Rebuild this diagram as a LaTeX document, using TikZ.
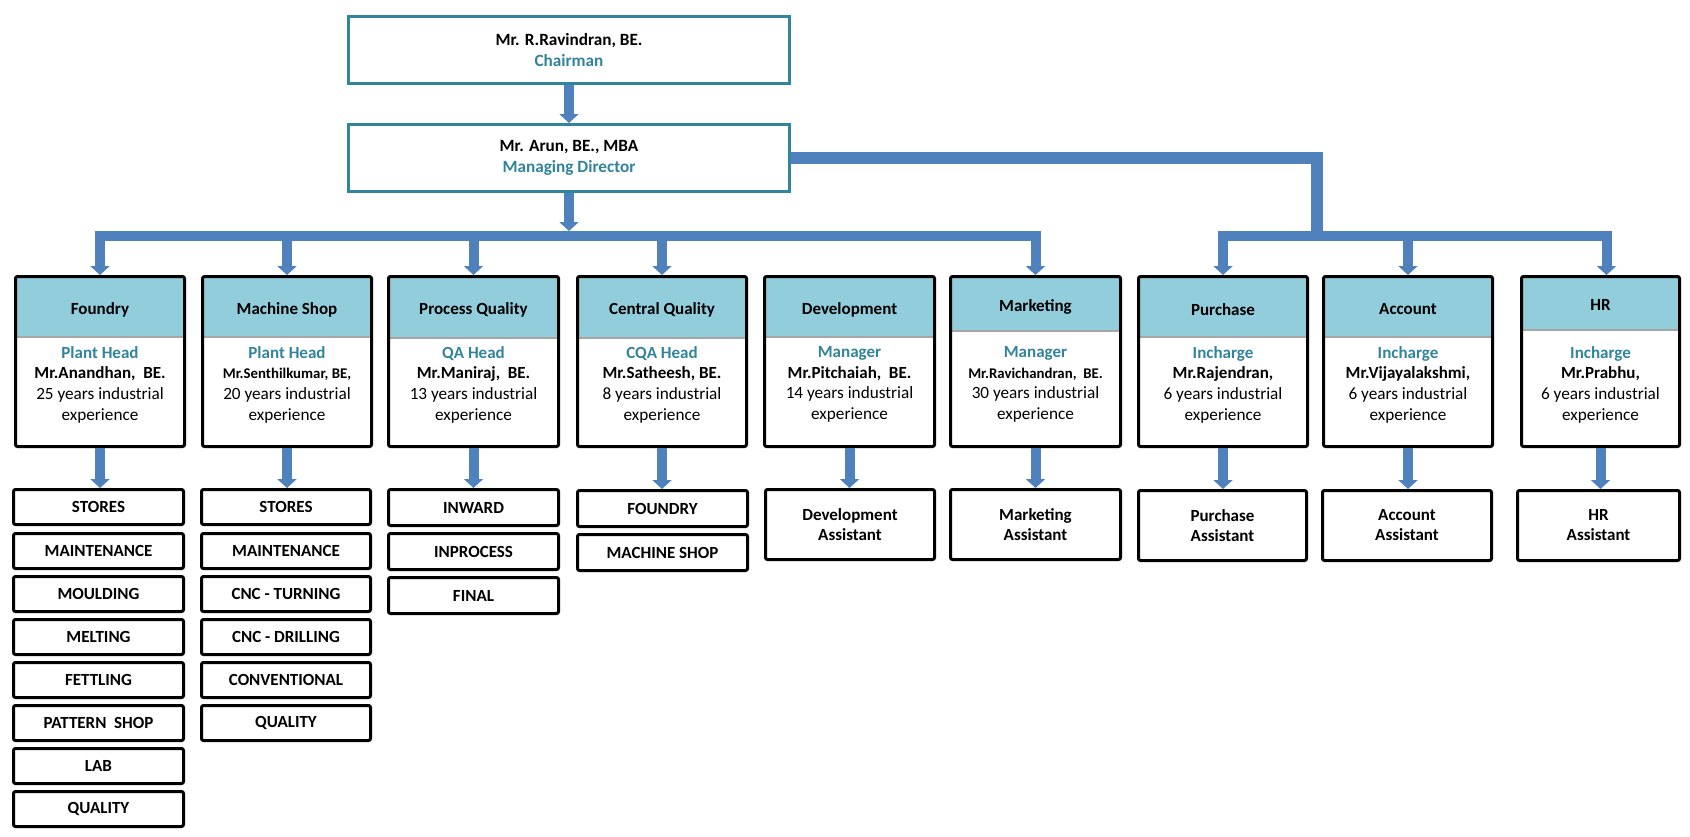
\documentclass[tikz,border=0pt]{standalone}
\usepackage{fontspec}
\setmainfont{Carlito}
\usetikzlibrary{arrows.meta}
\definecolor{tealtxt}{HTML}{31849B}
\definecolor{tealline}{HTML}{31859C}
\definecolor{hdrblue}{HTML}{92CDDC}
\definecolor{arrowblue}{HTML}{4F81BD}
\definecolor{hdrgrey}{HTML}{A6A6A6}
\tikzset{
  topbox/.style={draw=tealline, line width=3pt, fill=white, minimum width=441pt, minimum height=67pt, align=center, inner sep=0pt, font=\fontsize{17.2}{21.5}\selectfont\bfseries},
  deptframe/.style={draw=black, line width=3pt, rounded corners=2pt, minimum height=170pt, inner sep=0pt},
  hdrtext/.style={font=\fontsize{17}{20}\selectfont\bfseries, inner sep=0pt},
  bodytext/.style={align=center, font=\fontsize{17.2}{20.7}\selectfont, inner sep=0pt},
  subbox/.style={draw=black, line width=3pt, rounded corners=2pt, align=center, inner sep=0pt, font=\fontsize{17}{20}\selectfont\bfseries},
  arr/.style={draw=arrowblue, line width=10pt, line join=miter, -{Triangle[width=19pt,length=9pt]}},
  busline/.style={draw=arrowblue, line width=10pt, line join=miter},
  hdrfill/.style={fill=hdrblue},
  hdrline/.style={draw=hdrgrey, line width=1.5pt},
}
% #1 name, #2 left, #3 right, #4 header bottom, #5 header text y, #6 header, #7 role, #8 name line, #9 years
\newcommand\deptunit[9]{%
  \fill[hdrfill] (#2+1.5,276.5) rectangle (#3-1.5,#4);
  \draw[hdrline] (#2+1.5,#4) -- (#3-1.5,#4);
  \node[deptframe, minimum width=#3-#2-3] (#1) at ({(#2+#3)/2},361.5) {};
  \node[hdrtext] (#1h) at ({(#2+#3)/2},#5+1.5) {#6};
  \node[bodytext] (#1b) at ({(#2+#3)/2},384.5) {{\bfseries\fontsize{17}{20.7}\selectfont\color{tealtxt}#7}\\#8\\#9 years industrial\\experience};
}
% #1 name, #2 left, #3 right, #4 top, #5 bottom, #6 text
\newcommand\subunit[6]{%
  \node[subbox, minimum width=#3-#2-3, minimum height=#5-#4-3] (#1) at ({(#2+#3)/2},{(#4+#5)/2+1}) {#6};
}
\newcommand\nmA[1]{{\bfseries\fontsize{17}{20.7}\selectfont #1}}
\newcommand\nmB[1]{{\bfseries\fontsize{14.8}{20.7}\selectfont #1}}
\begin{document}
\begin{tikzpicture}[x=1pt,y=-1pt]
\useasboundingbox (0,0) rectangle (1690,836);

% top boxes
\node[topbox] (ch) at (569,50) {Mr. R.Ravindran, BE.\\\textcolor{tealtxt}{Chairman}};
\node[topbox] (md) at (569,158) {Mr. Arun, BE., MBA\\\textcolor{tealtxt}{Managing Director}};

% departments
\deptunit{fo}{14}{186}{337}{308}{Foundry}{Plant Head}{\nmA{Mr.Anandhan,\ \ BE.}}{25}
\deptunit{ms}{201}{373}{337}{308}{Machine Shop}{Plant Head}{\nmB{Mr.Senthilkumar, BE,}}{20}
\deptunit{pq}{387}{560}{338}{308}{Process Quality}{QA Head}{\nmA{Mr.Maniraj,\ \ BE.}}{13}
\deptunit{cq}{576}{748}{338}{308}{Central Quality}{CQA Head}{\nmA{Mr.Satheesh, BE.}}{8}
\deptunit{dv}{763}{936}{337}{308}{Development}{Manager}{\nmA{Mr.Pitchaiah,\ \ BE.}}{14}
\deptunit{mk}{949}{1122}{331}{305}{Marketing}{Manager}{\nmB{Mr.Ravichandran,\ \ BE.}}{30}
\deptunit{pu}{1137}{1309}{337}{308}{Purchase}{Incharge}{\nmA{Mr.Rajendran,}}{6}
\deptunit{ac}{1322}{1494}{337}{308}{Account}{Incharge}{\nmA{Mr.Vijayalakshmi,}}{6}
\deptunit{hr}{1520}{1681}{330}{303}{HR}{Incharge}{\nmA{Mr.Prabhu,}}{6}

% foundry column
\subunit{fo1}{12}{185}{487}{525}{STORES}
\subunit{fo2}{12}{185}{531}{569}{MAINTENANCE}
\subunit{fo3}{12}{185}{574}{612}{MOULDING}
\subunit{fo4}{12}{185}{617}{655}{MELTING}
\subunit{fo5}{12}{185}{660}{698}{FETTLING}
\subunit{fo6}{12}{185}{703}{741}{PATTERN\ \ SHOP}
\subunit{fo7}{12}{185}{746}{784}{LAB}
\subunit{fo8}{12}{185}{789}{827}{QUALITY}
% machine shop column
\subunit{ms1}{200}{372}{487}{525}{STORES}
\subunit{ms2}{200}{372}{531}{569}{MAINTENANCE}
\subunit{ms3}{200}{372}{574}{612}{CNC - TURNING}
\subunit{ms4}{200}{372}{617}{655}{CNC - DRILLING}
\subunit{ms5}{200}{372}{660}{698}{CONVENTIONAL}
\subunit{ms6}{200}{372}{703}{741}{QUALITY}
% process quality column
\subunit{pq1}{387}{560}{487}{526}{INWARD}
\subunit{pq2}{387}{560}{531}{570}{INPROCESS}
\subunit{pq3}{387}{560}{575}{614}{FINAL}
% central quality column
\subunit{cq1}{576}{749}{488}{527}{FOUNDRY}
\subunit{cq2}{576}{749}{532}{571}{MACHINE SHOP}
% assistants
\subunit{dv1}{764}{936}{487}{560}{Development\\Assistant}
\subunit{mk1}{949}{1122}{487}{560}{Marketing\\Assistant}
\subunit{pu1}{1137}{1308}{488}{561}{Purchase\\Assistant}
\subunit{ac1}{1321}{1493}{488}{561}{Account\\Assistant}
\subunit{hr1}{1516}{1681}{488}{561}{HR\\Assistant}

% connectors
\coordinate (mdtip) at (569,231);
\coordinate (busL) at (569,236);
\coordinate (busR) at (1317,236);
\draw[arr] (ch.south) -- (md.north);
\draw[arr] (md.south) -- (mdtip);
\foreach \d in {fo,ms,pq,cq,mk}{
  \draw[arr] (busL) -| (\d.north);
}
\draw[busline, line width=12pt] (md.east) -| (busR);
\draw[arr] (busR) -| (pu.north);
\draw[arr] (busR) -| (ac.north);
\draw[arr] (busR) -| ([xshift=6pt]hr.north);
\foreach \d in {fo,ms,pq,cq,dv,mk,pu,ac,hr}{
  \draw[arr] (\d.south) -- (\d.south |- \d1.north);
}
\end{tikzpicture}
\end{document}
